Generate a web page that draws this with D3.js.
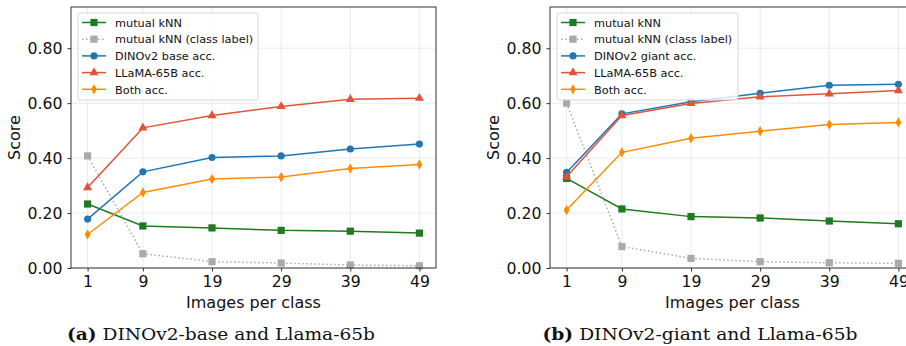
<!DOCTYPE html>
<html>
<head>
<meta charset="utf-8">
<script src="https://cdn.jsdelivr.net/npm/d3@7"></script>
<style>
  body { margin: 0; background: #fff; }
  text { font-family: "DejaVu Sans", sans-serif; fill: #111; }
  .caption { font-family: "DejaVu Serif", "Liberation Serif", serif; }
</style>
</head>
<body>
<div id="chart"></div>
<script>
// shared x categories
const imagesPerClass = [1, 9, 19, 29, 39, 49];
const yTicks = [0, 0.2, 0.4, 0.6, 0.8];

// panel (a): DINOv2-base and Llama-65b
const baseMutualKnn = [0.233, 0.153, 0.146, 0.137, 0.134, 0.127];
const baseMutualKnnLabel = [0.408, 0.052, 0.023, 0.018, 0.011, 0.008];
const baseDinoAcc = [0.178, 0.350, 0.402, 0.408, 0.433, 0.451];
const baseLlamaAcc = [0.293, 0.510, 0.555, 0.588, 0.614, 0.618];
const baseBothAcc = [0.122, 0.275, 0.324, 0.331, 0.362, 0.377];

// panel (b): DINOv2-giant and Llama-65b
const giantMutualKnn = [0.326, 0.215, 0.187, 0.182, 0.171, 0.161];
const giantMutualKnnLabel = [0.600, 0.078, 0.035, 0.023, 0.019, 0.017];
const giantDinoAcc = [0.348, 0.561, 0.605, 0.636, 0.665, 0.669];
const giantLlamaAcc = [0.332, 0.555, 0.599, 0.623, 0.634, 0.646];
const giantBothAcc = [0.211, 0.421, 0.472, 0.498, 0.522, 0.530];

const colors = {
  knn: '#1f7b1f', label: '#aaaaaa', dino: '#1f77b4', llama: '#e2543a', both: '#ff8c00',
};

const svg = d3.select('#chart').append('svg')
  .attr('width', 906)
  .attr('height', 346);

const symbolFor = {
  square: d3.symbol().type(d3.symbolSquare).size(52),
  circle: d3.symbol().type(d3.symbolCircle).size(40),
  triangle: d3.symbol().type(d3.symbolTriangle).size(36),
  diamond: d3.symbol().type(d3.symbolDiamond).size(30),
};

function drawPanel(cfg) {
  const x = d3.scaleLinear().domain([-1.4, 51.4]).range([cfg.left, cfg.left + 365]);
  const y = d3.scaleLinear().domain([0, 0.95]).range([268, 7]);

  const g = svg.append('g');

  /* grid */
  g.append('g').selectAll('line.vg')
    .data(imagesPerClass)
    .join('line')
    .attr('x1', (d) => x(d)).attr('x2', (d) => x(d))
    .attr('y1', y.range()[1]).attr('y2', y.range()[0])
    .attr('stroke', '#e6e6e6').attr('stroke-width', 0.8);
  g.append('g').selectAll('line.hg')
    .data(yTicks)
    .join('line')
    .attr('x1', x.range()[0]).attr('x2', x.range()[1])
    .attr('y1', (d) => y(d)).attr('y2', (d) => y(d))
    .attr('stroke', '#e6e6e6').attr('stroke-width', 0.8);

  /* series */
  const line = d3.line().x((d, i) => x(imagesPerClass[i])).y((d) => y(d));
  cfg.series.forEach((s) => {
    g.append('path')
      .attr('d', line(s.values))
      .attr('fill', 'none')
      .attr('stroke', s.color)
      .attr('stroke-width', 1.5)
      .attr('stroke-dasharray', s.dotted ? '1.5,2.5' : null);
    g.selectAll(null)
      .data(s.values)
      .join('path')
      .attr('transform', (d, i) => `translate(${x(imagesPerClass[i])},${y(d)})`)
      .attr('d', symbolFor[s.marker]())
      .attr('fill', s.color);
  });

  /* axes frame */
  g.append('rect')
    .attr('x', x.range()[0]).attr('y', y.range()[1])
    .attr('width', x.range()[1] - x.range()[0])
    .attr('height', y.range()[0] - y.range()[1])
    .attr('fill', 'none').attr('stroke', '#333').attr('stroke-width', 1);

  const xAxis = g.append('g')
    .attr('transform', 'translate(0,268)')
    .call(d3.axisBottom(x).tickValues(imagesPerClass).tickSize(3.5).tickPadding(4));
  const yAxis = g.append('g')
    .attr('transform', `translate(${cfg.left},0)`)
    .call(d3.axisLeft(y).tickValues(yTicks).tickFormat(d3.format('.2f')).tickSize(3.5).tickPadding(5));
  [xAxis, yAxis].forEach((a) => {
    a.select('.domain').remove();
    a.selectAll('line').attr('stroke', '#333');
    a.selectAll('text').attr('font-size', 15.7).attr('font-family', 'DejaVu Sans').attr('fill', '#111');
  });

  /* axis labels */
  g.append('text')
    .attr('x', (x.range()[0] + x.range()[1]) / 2)
    .attr('y', 308)
    .attr('text-anchor', 'middle')
    .attr('font-size', 16)
    .text('Images per class');
  g.append('text')
    .attr('transform', `translate(${cfg.left - 51},137.5) rotate(-90)`)
    .attr('text-anchor', 'middle')
    .attr('font-size', 16)
    .text('Score');

  /* legend */
  const lg = g.append('g').attr('transform', `translate(${cfg.left + 7},13)`);
  lg.append('rect')
    .attr('width', cfg.legendWidth).attr('height', 87)
    .attr('rx', 2)
    .attr('fill', 'rgba(255,255,255,0.8)')
    .attr('stroke', '#d6d6d6');
  const items = lg.selectAll('g.item')
    .data(cfg.series)
    .join('g')
    .attr('transform', (d, i) => `translate(0,${9.5 + i * 16.7})`);
  items.append('line')
    .attr('x1', 4).attr('x2', 28)
    .attr('stroke', (d) => d.color)
    .attr('stroke-width', 1.5)
    .attr('stroke-dasharray', (d) => (d.dotted ? '1.5,2.5' : null));
  items.append('path')
    .attr('transform', 'translate(16,0)')
    .attr('d', (d) => symbolFor[d.marker]())
    .attr('fill', (d) => d.color);
  items.append('text')
    .attr('x', 37).attr('y', 4.2)
    .attr('font-size', 11.3)
    .text((d) => d.name);

  /* caption */
  const cap = g.append('text')
    .attr('class', 'caption')
    .attr('x', cfg.captionX)
    .attr('y', 340)
    .attr('text-anchor', 'middle')
    .attr('font-size', 17)
    .attr('textLength', cfg.captionWidth)
    .attr('lengthAdjust', 'spacingAndGlyphs');
  cap.append('tspan').attr('font-weight', 'bold').text(cfg.tag);
  cap.append('tspan').text(' ' + cfg.caption);
}

drawPanel({
  left: 71,
  legendWidth: 180,
  captionX: 221,
  captionWidth: 308,
  tag: '(a)',
  caption: 'DINOv2-base and Llama-65b',
  series: [
    { name: 'mutual kNN', values: baseMutualKnn, color: colors.knn, marker: 'square' },
    { name: 'mutual kNN (class label)', values: baseMutualKnnLabel, color: colors.label, marker: 'square', dotted: true },
    { name: 'DINOv2 base acc.', values: baseDinoAcc, color: colors.dino, marker: 'circle' },
    { name: 'LLaMA-65B acc.', values: baseLlamaAcc, color: colors.llama, marker: 'triangle' },
    { name: 'Both acc.', values: baseBothAcc, color: colors.both, marker: 'diamond' },
  ],
});

drawPanel({
  left: 550,
  legendWidth: 181,
  captionX: 700,
  captionWidth: 315,
  tag: '(b)',
  caption: 'DINOv2-giant and Llama-65b',
  series: [
    { name: 'mutual kNN', values: giantMutualKnn, color: colors.knn, marker: 'square' },
    { name: 'mutual kNN (class label)', values: giantMutualKnnLabel, color: colors.label, marker: 'square', dotted: true },
    { name: 'DINOv2 giant acc.', values: giantDinoAcc, color: colors.dino, marker: 'circle' },
    { name: 'LLaMA-65B acc.', values: giantLlamaAcc, color: colors.llama, marker: 'triangle' },
    { name: 'Both acc.', values: giantBothAcc, color: colors.both, marker: 'diamond' },
  ],
});
</script>
</body>
</html>
